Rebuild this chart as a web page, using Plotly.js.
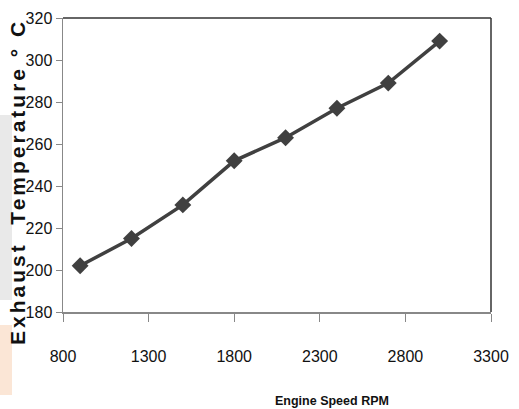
<!DOCTYPE html>
<html>
<head>
<meta charset="utf-8">
<script src="https://cdn.plot.ly/plotly-3.0.1.min.js"></script>
<style>
html,body{margin:0;padding:0;background:#fff;}
g.annotation[data-index="1"] text{letter-spacing:3px;}
</style>
</head>
<body>
<div id="chart" style="width:519px;height:409px;"></div>
<script>
var engineSpeed = [900, 1200, 1500, 1800, 2100, 2400, 2700, 3000];
var exhaustTemp = [202, 215, 231, 252, 263, 277, 289, 309];
var xTicks = [800, 1300, 1800, 2300, 2800, 3300];
var yTicks = [180, 200, 220, 240, 260, 280, 300, 320];

var W = 519, H = 409;
var mL = 63, mR = 28, mT = 18, mB = 97;
var pw = W - mL - mR, ph = H - mT - mB;
function px(x){ return (x - mL) / pw; }
function py(y){ return (H - mB - y) / ph; }

var trace = {
  x: engineSpeed,
  y: exhaustTemp,
  mode: 'lines+markers',
  type: 'scatter',
  line: {color: '#404040', width: 3.5},
  marker: {symbol: 'diamond', size: 13, color: '#404040'},
  hoverinfo: 'skip'
};

var layout = {
  width: W, height: H,
  margin: {l: mL, r: mR, t: mT, b: mB, pad: 0},
  paper_bgcolor: '#ffffff',
  plot_bgcolor: '#ffffff',
  showlegend: false,
  font: {family: 'Liberation Sans, Arial, sans-serif', color: '#111'},
  xaxis: {
    range: [800, 3300],
    tickvals: xTicks,
    ticktext: xTicks.map(String),
    showgrid: false, zeroline: false,
    showline: true, linecolor: '#888', linewidth: 1.5,
    ticks: 'outside', ticklen: 8, tickcolor: '#888', tickwidth: 1,
    ticklabelstandoff: 21,
    tickfont: {size: 16, family: 'Liberation Sans, Arial, sans-serif', color: '#111'}
  },
  yaxis: {
    range: [180, 320],
    tickvals: yTicks,
    ticktext: yTicks.map(String),
    showgrid: false, zeroline: false,
    showline: true, linecolor: '#888', linewidth: 1.5,
    ticks: 'outside', ticklen: 6, tickcolor: '#888', tickwidth: 1,
    tickfont: {size: 16, family: 'Liberation Sans, Arial, sans-serif', color: '#111'}
  },
  shapes: [
    {type: 'rect', xref: 'paper', yref: 'paper', x0: px(0), x1: px(12), y0: py(300), y1: py(115), fillcolor: '#e9e9e9', line: {width: 0}, layer: 'below'},
    {type: 'rect', xref: 'paper', yref: 'paper', x0: px(0), x1: px(12), y0: py(395), y1: py(325), fillcolor: '#fbe6d6', line: {width: 0}, layer: 'below'},
    {type: 'line', xref: 'paper', yref: 'paper', x0: 0, x1: 1, y0: 1, y1: 1, line: {color: '#333', width: 1.5}},
    {type: 'line', xref: 'paper', yref: 'paper', x0: 1, x1: 1, y0: 0, y1: 1, line: {color: '#333', width: 1.5}}
  ],
  annotations: [
    {text: '<b>Engine Speed RPM</b>', xref: 'paper', yref: 'paper', x: px(332), y: py(401), showarrow: false, xanchor: 'center', yanchor: 'middle', font: {size: 12.5, family: 'Liberation Sans, Arial, sans-serif', color: '#111'}},
    {text: '<b>Exhaust  Temperature ° C</b>', xref: 'paper', yref: 'paper', x: px(17), y: py(182), showarrow: false, textangle: -90, xanchor: 'center', yanchor: 'middle', font: {size: 21, family: 'Liberation Sans, Arial, sans-serif', color: '#111'}}
  ]
};

Plotly.newPlot('chart', [trace], layout, {displayModeBar: false, staticPlot: true});
</script>
</body>
</html>
